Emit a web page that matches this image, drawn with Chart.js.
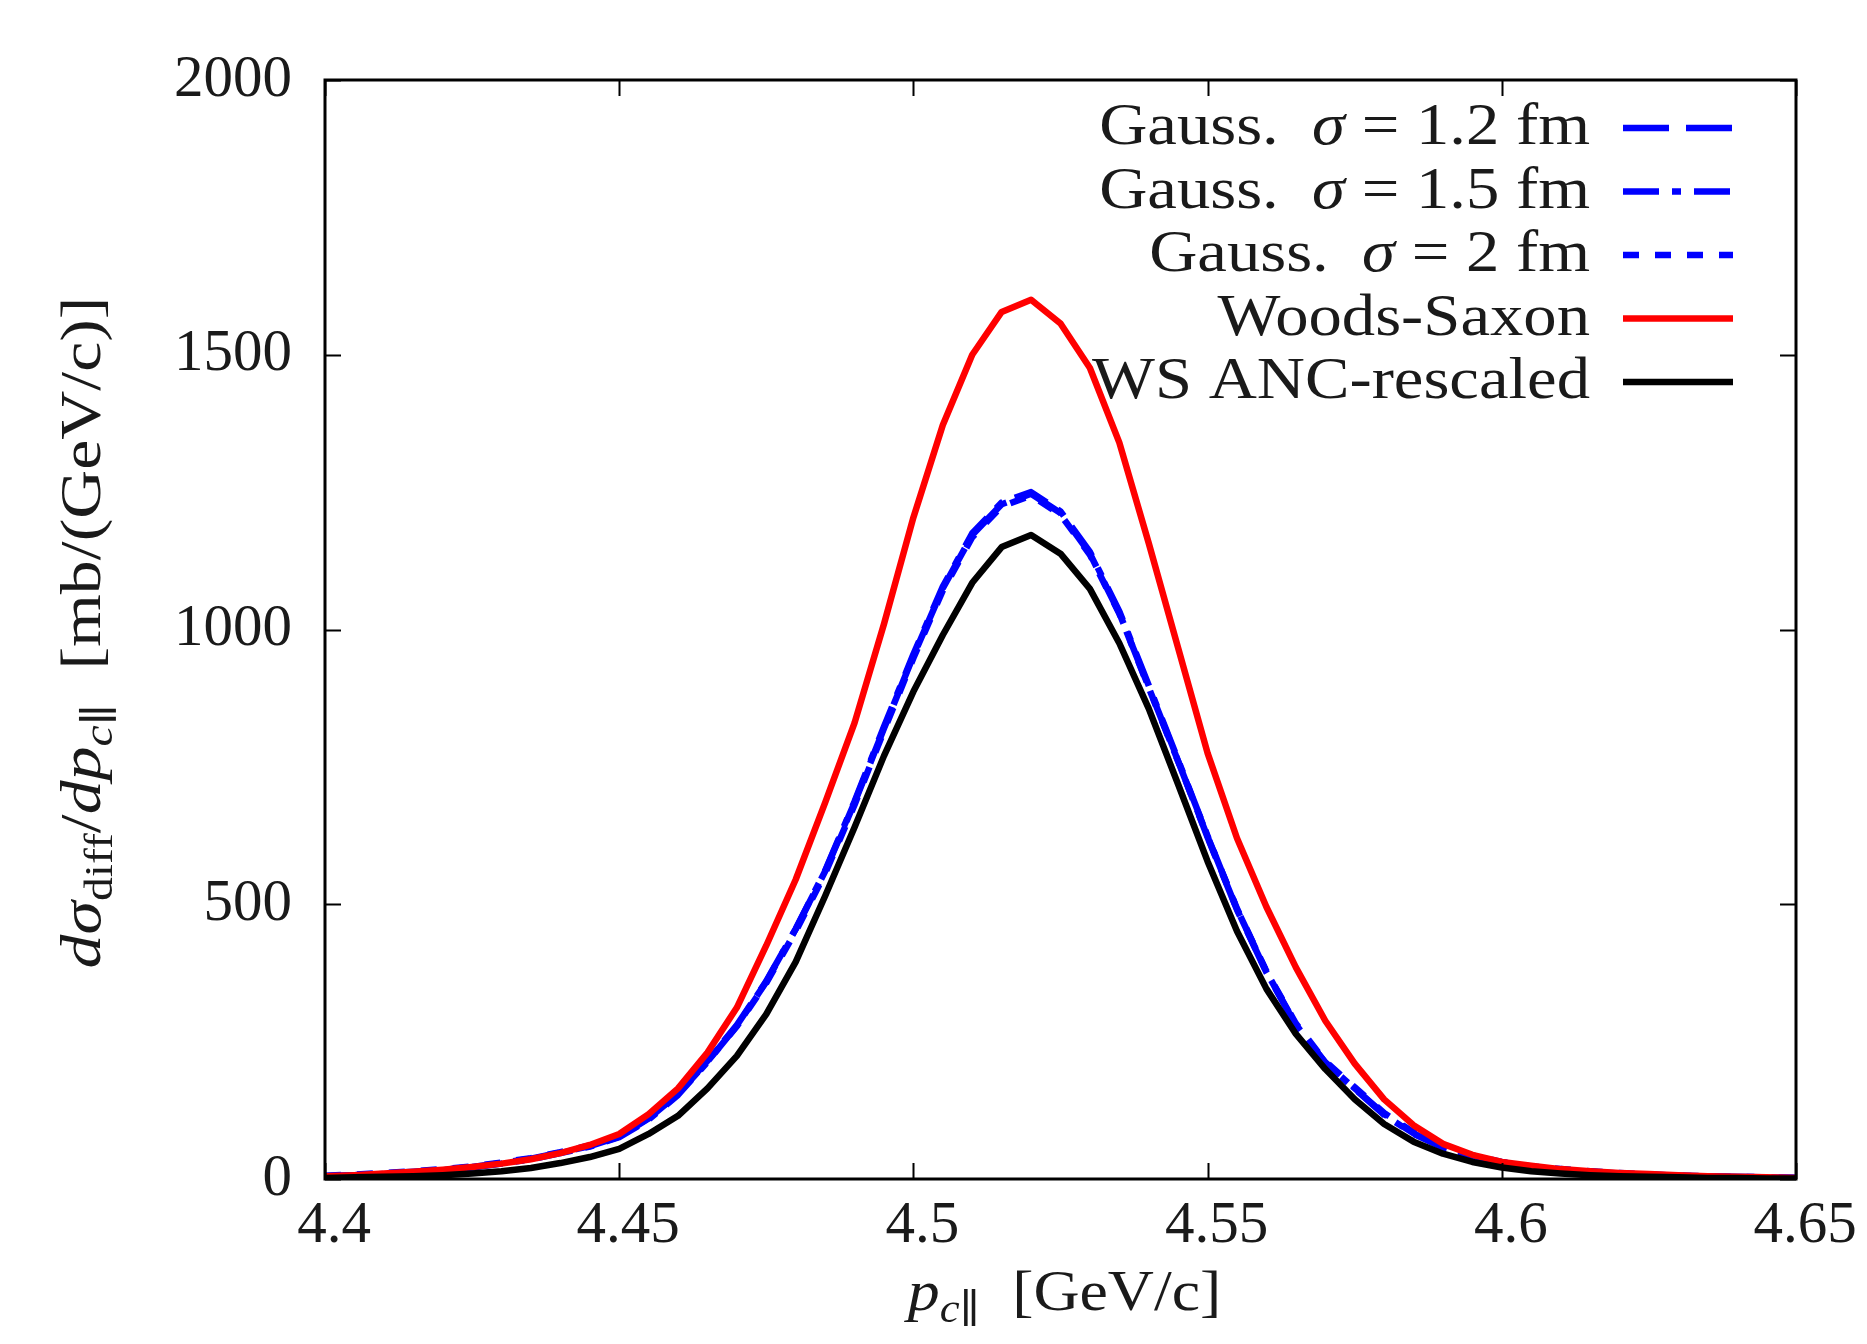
<!DOCTYPE html>
<html>
<head>
<meta charset="utf-8">
<script src="https://cdn.jsdelivr.net/npm/chart.js@4/dist/chart.umd.min.js"></script>
<style>
  html, body { margin: 0; padding: 0; background: #fff; }
</style>
</head>
<body>
<canvas id="chart" width="1867" height="1344"></canvas>
<script>
// p_c|| grid [GeV/c]
const momentum = [
  4.400, 4.405, 4.410, 4.415, 4.420, 4.425, 4.430, 4.435, 4.440, 4.445,
  4.450, 4.455, 4.460, 4.465, 4.470, 4.475, 4.480, 4.485, 4.490, 4.495,
  4.500, 4.505, 4.510, 4.515, 4.520, 4.525, 4.530, 4.535, 4.540, 4.545,
  4.550, 4.555, 4.560, 4.565, 4.570, 4.575, 4.580, 4.585, 4.590, 4.595,
  4.600, 4.605, 4.610, 4.615, 4.620, 4.625, 4.630, 4.635, 4.640, 4.645,
  4.650
];

// dsigma_diff/dp [mb/(GeV/c)]
const gauss12 = [
  5, 7, 10, 13, 17, 22, 29, 37, 48, 60,
  77, 110, 155, 215, 280, 360, 455, 560, 685, 820,
  952, 1075, 1172, 1228, 1247, 1212, 1138, 1030, 895, 760,
  622, 490, 376, 280, 212, 165, 118, 83, 58, 42,
  30, 22, 17, 13, 10, 8, 6, 5, 4, 3,
  2
];
const gauss15 = [
  5, 7, 9, 12, 16, 21, 28, 36, 47, 59,
  76, 108, 153, 213, 279, 359, 455, 561, 687, 823,
  955, 1078, 1175, 1231, 1250, 1215, 1141, 1033, 898, 762,
  624, 491, 377, 281, 212, 164, 117, 82, 57, 41,
  29, 21, 16, 12, 9, 7, 5, 4, 3, 2,
  2
];
const gauss20 = [
  6, 8, 11, 14, 18, 23, 30, 38, 49, 61,
  78, 111, 155, 214, 278, 357, 451, 556, 681, 816,
  948, 1071, 1168, 1224, 1244, 1209, 1136, 1029, 894, 760,
  623, 492, 378, 283, 214, 167, 120, 85, 60, 43,
  31, 23, 18, 14, 11, 8, 6, 5, 4, 3,
  2
];
const woodsSaxon = [
  5, 7, 10, 13, 17, 22, 28, 36, 47, 62,
  82, 118, 165, 230, 312, 425, 545, 685, 830, 1010,
  1204, 1372, 1500, 1578, 1600, 1557, 1476, 1340, 1157, 966,
  775, 620, 495, 385, 288, 210, 145, 98, 64, 44,
  31, 24, 18, 14, 11, 9, 7, 5, 4, 3,
  2
];
const wsAncRescaled = [
  2, 3, 4, 5, 7, 10, 14, 20, 29, 40,
  55, 82, 115, 165, 224, 300, 395, 515, 640, 770,
  887, 990, 1085, 1150, 1172, 1138, 1074, 975, 856, 718,
  578, 451, 346, 264, 200, 145, 100, 68, 46, 31,
  21, 14, 10, 7, 5, 4, 3, 2, 2, 1,
  1
];

const seriesNames = [
  'Gauss.  σ = 1.2 fm',
  'Gauss.  σ = 1.5 fm',
  'Gauss.  σ = 2 fm',
  'Woods-Saxon',
  'WS ANC-rescaled'
];

const xTicks = [4.4, 4.45, 4.5, 4.55, 4.6, 4.65];
const xTickLabels = ['4.4', '4.45', '4.5', '4.55', '4.6', '4.65'];
const yTicks = [0, 500, 1000, 1500, 2000];
const yTickLabels = ['0', '500', '1000', '1500', '2000'];

const SERIF = '"Liberation Serif", "DejaVu Serif", serif';
const INK = '#1a1a1a';

const pts = ys => momentum.map((x, i) => ({ x, y: ys[i] }));

// draws text runs one after the other; sx stretches them to look like CM
function drawRich(ctx, parts, x, y, align, sx) {
  let w = 0;
  parts.forEach(p => { ctx.font = p.font; w += ctx.measureText(p.text).width; });
  ctx.save();
  ctx.translate(x, y);
  ctx.scale(sx || 1, 1);
  let cx = align === 'right' ? -w : align === 'center' ? -w / 2 : 0;
  parts.forEach(p => {
    ctx.font = p.font;
    ctx.fillText(p.text, cx, p.dy || 0);
    cx += ctx.measureText(p.text).width;
  });
  ctx.restore();
}

const frame = {
  id: 'frame',
  afterDatasetsDraw(chart) {
    const { ctx, chartArea: a, scales } = chart;
    ctx.save();
    ctx.strokeStyle = '#000';
    // inward ticks on all four sides
    ctx.lineWidth = 2;
    ctx.beginPath();
    xTicks.forEach(v => {
      const px = Math.round(scales.x.getPixelForValue(v)) + 0.5;
      ctx.moveTo(px, a.bottom); ctx.lineTo(px, a.bottom - 16);
      ctx.moveTo(px, a.top); ctx.lineTo(px, a.top + 16);
    });
    yTicks.forEach(v => {
      const py = Math.round(scales.y.getPixelForValue(v)) + 0.5;
      ctx.moveTo(a.left, py); ctx.lineTo(a.left + 16, py);
      ctx.moveTo(a.right, py); ctx.lineTo(a.right - 16, py);
    });
    ctx.stroke();
    ctx.lineWidth = 3;
    ctx.strokeRect(a.left, a.top, a.right - a.left, a.bottom - a.top);

    // legend: text right-aligned, sample on the right
    ctx.fillStyle = INK;
    ctx.textBaseline = 'alphabetic';
    chart.data.datasets.forEach((ds, i) => {
      const yc = 128 + i * 63.5;
      const bits = ds.label.split('σ');
      const parts = bits.length > 1
        ? [{ text: bits[0], font: `59px ${SERIF}` },
           { text: 'σ', font: `italic 59px ${SERIF}` },
           { text: bits[1], font: `59px ${SERIF}` }]
        : [{ text: ds.label, font: `59px ${SERIF}` }];
      drawRich(ctx, parts, 1590, yc + 16, 'right', 1.13);
      ctx.strokeStyle = ds.borderColor;
      ctx.lineWidth = ds.borderWidth;
      ctx.setLineDash(ds.borderDash || []);
      ctx.beginPath();
      ctx.moveTo(1623, yc); ctx.lineTo(1733, yc);
      ctx.stroke();
      ctx.setLineDash([]);
    });

    // axis titles
    ctx.fillStyle = INK;
    const big = `57px ${SERIF}`, bigI = `italic 57px ${SERIF}`;
    const sub = `40px ${SERIF}`, subI = `italic 40px ${SERIF}`;
    drawRich(ctx, [
      { text: 'p', font: bigI },
      { text: 'c', font: subI, dy: 12 },
      { text: '∥', font: sub, dy: 12 },
      { text: '  [GeV/c]', font: big }
    ], (a.left + a.right) / 2 + 4, 1310, 'center', 1.12);

    ctx.translate(100, (a.top + a.bottom) / 2 + 3);
    ctx.rotate(-Math.PI / 2);
    drawRich(ctx, [
      { text: 'dσ', font: bigI },
      { text: 'diff', font: sub, dy: 12 },
      { text: '/', font: big },
      { text: 'dp', font: bigI },
      { text: 'c', font: subI, dy: 12 },
      { text: '∥', font: sub, dy: 12 },
      { text: '  [mb/(GeV/c)]', font: big }
    ], 0, 0, 'center', 1.19);
    ctx.restore();
  }
};

const lineStyle = (label, color, dash, order, ys) => ({
  label,
  data: pts(ys),
  borderColor: color,
  borderWidth: 6.5,
  borderDash: dash,
  borderCapStyle: 'butt',
  borderJoinStyle: 'round',
  pointRadius: 0,
  tension: 0,
  fill: false,
  order
});

new Chart(document.getElementById('chart'), {
  type: 'line',
  data: {
    datasets: [
      lineStyle(seriesNames[0], '#0000ff', [46, 17], 4, gauss12),
      lineStyle(seriesNames[1], '#0000ff', [36, 13, 9, 13], 3, gauss15),
      lineStyle(seriesNames[2], '#0000ff', [16, 16], 2, gauss20),
      lineStyle(seriesNames[3], '#ff0000', [], 1, woodsSaxon),
      lineStyle(seriesNames[4], '#000000', [], 0, wsAncRescaled)
    ]
  },
  options: {
    responsive: false,
    animation: false,
    devicePixelRatio: 1,
    layout: { padding: { top: 80, right: 71, bottom: 0, left: 0 } },
    plugins: { legend: { display: false }, tooltip: { enabled: false } },
    scales: {
      x: {
        type: 'linear',
        min: 4.4,
        max: 4.65,
        grid: { display: false, drawTicks: false },
        border: { display: false },
        afterBuildTicks: s => { s.ticks = xTicks.map(v => ({ value: v })); },
        afterFit: s => { s.height = 165; },
        ticks: {
          padding: 12,
          labelOffset: 9,
          color: INK,
          font: { family: SERIF, size: 59 },
          maxRotation: 0,
          callback: (v, i) => xTickLabels[i]
        }
      },
      y: {
        min: 0,
        max: 2000,
        grid: { display: false, drawTicks: false },
        border: { display: false },
        afterBuildTicks: s => { s.ticks = yTicks.map(v => ({ value: v })); },
        afterFit: s => { s.width = 325; },
        ticks: {
          padding: 33,
          color: INK,
          font: { family: SERIF, size: 59 },
          callback: (v, i) => yTickLabels[i]
        }
      }
    }
  },
  plugins: [frame]
});
</script>
</body>
</html>
